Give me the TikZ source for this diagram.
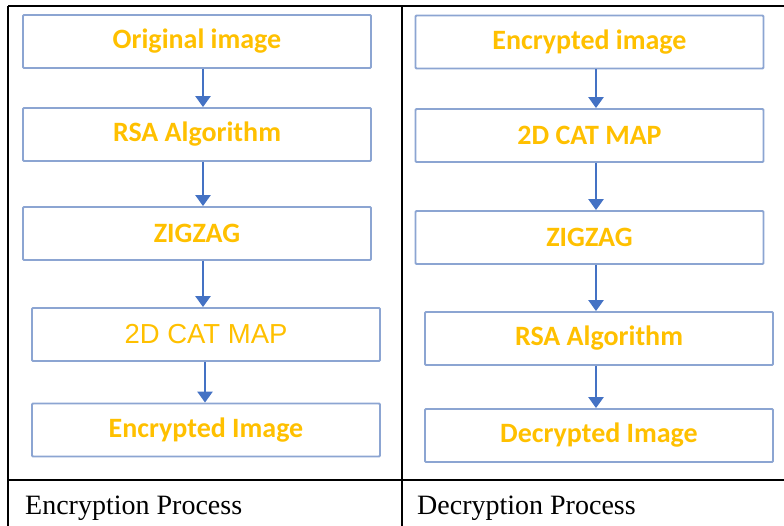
\documentclass[tikz,border=0pt]{standalone}
\usepackage{fontspec}
\setmainfont{Liberation Serif}
\newfontfamily\stagefont{Carlito}
\newfontfamily\plainfont{Liberation Sans}
\usepackage{tikz}
\usetikzlibrary{arrows.meta}
\definecolor{boxblue}{HTML}{8CA5D2}
\definecolor{arrowblue}{HTML}{4472C4}
\definecolor{stagegold}{HTML}{FFC000}
\tikzset{
  stage/.style={draw=boxblue, line width=1.8pt, rounded corners=1pt, minimum width=348pt,
    minimum height=53pt, inner sep=0pt, text=stagegold, font=\stagefont\bfseries\fontsize{28}{32}\selectfont},
  stageplain/.style={stage, font=\plainfont\fontsize{27.5}{32}\selectfont},
  flow/.style={-{Triangle[width=15pt,length=11pt]}, draw=arrowblue, fill=arrowblue, line width=2.4pt},
  rule/.style={draw=black, line width=2pt},
  caption/.style={anchor=base west, inner sep=0pt, font=\fontsize{28}{32}\selectfont}
}

\begin{document}
\begin{tikzpicture}[x=1pt, y=-1pt]
  \useasboundingbox (0,0) rectangle (784,526);
  % table rules
  \draw[rule] (8,6) -- (784,6);
  \draw[rule] (8,6) -- (8,526);
  \draw[rule] (402,6) -- (402,526);
  \draw[rule] (8,480) -- (784,480);
  % encryption column
  \node[stage] (e1) at (197,41.5) {Original image};
  \node[stage] (e2) at (197,134.5) {RSA Algorithm};
  \node[stage] (e3) at (197,233.5) {ZIGZAG};
  \node[stageplain] (e4) at (206,334.5) {2D CAT MAP};
  \node[stage] (e5) at (206,430) {Encrypted Image};
  \coordinate (ex) at (203,0);
  \coordinate (ex2) at (205,0);
  \draw[flow] (e1.south -| ex) -- (e2.north -| ex);
  \draw[flow] (e2.south -| ex) -- (e3.north -| ex);
  \draw[flow] (e3.south -| ex) -- (e4.north -| ex);
  \draw[flow] (e4.south -| ex2) -- (e5.north -| ex2);
  % decryption column
  \node[stage] (d1) at (589.5,42) {Encrypted image};
  \node[stage] (d2) at (589.5,135.5) {2D CAT MAP};
  \node[stage] (d3) at (589.5,237.5) {ZIGZAG};
  \node[stage] (d4) at (599,338.5) {RSA Algorithm};
  \node[stage] (d5) at (599,435.5) {Decrypted Image};
  \coordinate (dx) at (596,0);
  \draw[flow] (d1.south -| dx) -- (d2.north -| dx);
  \draw[flow] (d2.south -| dx) -- (d3.north -| dx);
  \draw[flow] (d3.south -| dx) -- (d4.north -| dx);
  \draw[flow] (d4.south -| dx) -- (d5.north -| dx);
  % captions
  \node[caption] (ecap) at (25,514) {Encryption Process};
  \node[caption] (dcap) at (417,514) {Decryption Process};
\end{tikzpicture}
\end{document}
